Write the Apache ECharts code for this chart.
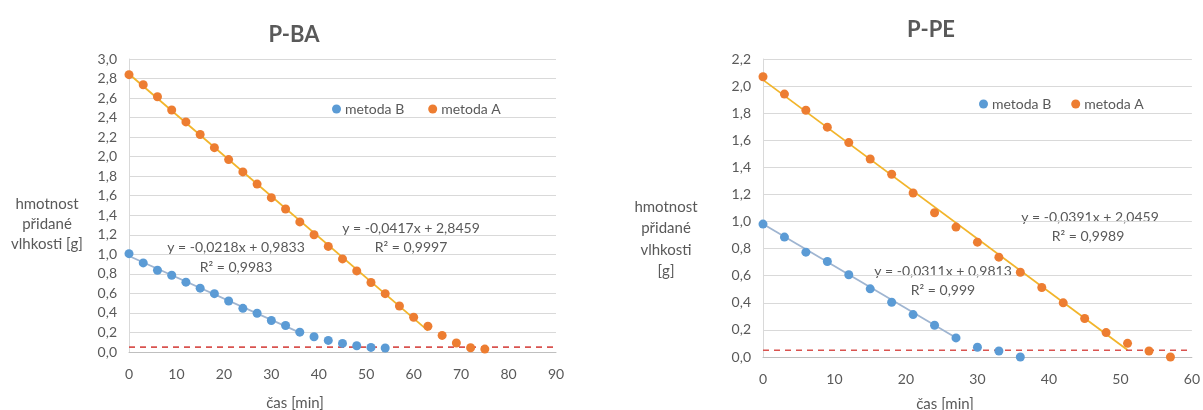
<!DOCTYPE html>
<html>
<head>
<meta charset="utf-8">
<script src="https://cdn.jsdelivr.net/npm/echarts@6/dist/echarts.min.js"></script>
<style>
html,body{margin:0;padding:0;background:#fff;}
#c{width:1203px;height:410px;}
</style>
</head>
<body>
<div id="c"></div>
<script>
// ---- data: P-BA (left chart) ----
const baTime = [0,3,6,9,12,15,18,21,24,27,30,33,36,39,42,45,48,51,54,57,60,63,66,69,72,75];
const baA = [2.84,2.736,2.614,2.478,2.356,2.227,2.092,1.97,1.844,1.719,1.58,1.464,1.332,1.2,1.081,0.953,0.83,0.712,0.597,0.471,0.356,0.264,0.17,0.092,0.044,0.03];
const baB = [1.007,0.912,0.837,0.786,0.715,0.654,0.597,0.522,0.447,0.397,0.322,0.271,0.203,0.156,0.119,0.088,0.064,0.047,0.041];
// trendline coefficients shown on chart: [slope, intercept, xStart, xEnd]
const baTrendA = [-0.0417, 2.8459, 0, 63];
const baTrendB = [-0.0218, 0.9833, 0, 36];
const baEqA = ['y = -0,0417x + 2,8459', 'R² = 0,9997'];
const baEqB = ['y = -0,0218x + 0,9833', 'R² = 0,9983'];

// ---- data: P-PE (right chart) ----
const peTime = [0,3,6,9,12,15,18,21,24,27,30,33,36,39,42,45,48,51,54,57];
const peA = [2.069,1.941,1.822,1.697,1.583,1.462,1.349,1.211,1.065,0.959,0.848,0.737,0.626,0.513,0.4,0.284,0.18,0.101,0.044,0.0];
const peB = [0.981,0.885,0.774,0.705,0.607,0.503,0.404,0.313,0.234,0.141,0.072,0.044,0.0];
const peTrendA = [-0.0391, 2.0459, 0, 51];
const peTrendB = [-0.0311, 0.9813, 0, 27];
const peEqA = ['y = -0,0391x + 2,0459', 'R² = 0,9989'];
const peEqB = ['y = -0,0311x + 0,9813', 'R² = 0,999'];

const threshold = 0.05;
const titles = ['P-BA', 'P-PE'];
const seriesNames = ['metoda B', 'metoda A'];
const xName = 'čas [min]';
const yNameBA = 'hmotnost\npřidané\nvlhkosti [g]';
const yNamePE = 'hmotnost\npřidané\nvlhkosti\n[g]';
const xAxisBA = [0, 90, 10];
const yAxisBA = [0, 3.0, 0.2];
const xAxisPE = [0, 60, 10];
const yAxisPE = [0, 2.2, 0.2];

// ---- styling ----
const FONT = 'Lato';
const TXT = '#595959';
const BLUE = '#5B9BD5';
const ORANGE = '#ED7D31';
const TREND_A = '#F2B52B';
const TREND_B = '#9FB5D1';
const RED = '#D9534F';

function pts(xs, ys){ return ys.map((v,i)=>[xs[i], v]); }
function trend(t){ return [[t[2], t[0]*t[2]+t[1]], [t[3], t[0]*t[3]+t[1]]]; }
const dec = v => v.toFixed(1).replace('.', ',');

function xAx(gi, r){
  return {gridIndex: gi, type:'value', min:r[0], max:r[1], interval:r[2],
    axisLine:{show:true, lineStyle:{color:'#BFBFBF', width:1}},
    axisTick:{show:false}, splitLine:{show:false},
    axisLabel:{color:TXT, fontFamily:FONT, fontSize:14, margin:15}};
}
function yAx(gi, r){
  return {gridIndex: gi, type:'value', min:r[0], max:r[1], interval:r[2],
    axisLine:{show:true, lineStyle:{color:'#D9D9D9', width:1}},
    axisTick:{show:false},
    splitLine:{show:true, lineStyle:{color:'#D9D9D9', width:1}},
    axisLabel:{color:TXT, fontFamily:FONT, fontSize:14, margin:12, formatter: dec}};
}
function scatter(name, gi, data, color){
  return {name, type:'scatter', xAxisIndex:gi, yAxisIndex:gi, data,
    symbol:'circle', symbolSize:9, itemStyle:{color, opacity:1}, z:5, silent:true};
}
function tline(gi, t, color){
  return {type:'line', xAxisIndex:gi, yAxisIndex:gi, data:trend(t), symbol:'none',
    lineStyle:{color, width:1.8}, z:3, silent:true};
}
function thr(gi, r){
  return {type:'line', xAxisIndex:gi, yAxisIndex:gi, data:[[r[0], threshold],[r[1], threshold]], symbol:'none',
    lineStyle:{color:RED, width:1.6, type:[6,5]}, z:4, silent:true};
}
function txt(x, y, s, opts){
  return Object.assign({type:'text', x, y, style:{text:s, fill:TXT, font:'14px ' + FONT, textAlign:'center', textVerticalAlign:'middle'}}, opts||{});
}
function multi(x, y, s, lh){
  return {type:'text', x, y, style:{text:s, fill:TXT, font:'15px ' + FONT, textAlign:'center', textVerticalAlign:'middle', lineHeight:lh}};
}

const option = {
  backgroundColor:'#ffffff',
  animation:false,
  title:[
    {text:titles[0], left:289, top:30, textAlign:'center', textVerticalAlign:'middle',
     textStyle:{fontFamily:FONT, fontWeight:'bold', fontSize:22, color:TXT}},
    {text:titles[1], left:926, top:25, textAlign:'center', textVerticalAlign:'middle',
     textStyle:{fontFamily:FONT, fontWeight:'bold', fontSize:22, color:TXT}}
  ],
  legend:[
    {data:seriesNames, left:327, top:97, icon:'circle', itemWidth:9, itemHeight:9, itemGap:24,
     textStyle:{color:TXT, fontFamily:FONT, fontSize:14, padding:[0,0,0,-1]}, selectedMode:false},
    {data:seriesNames, left:974, top:92, icon:'circle', itemWidth:9, itemHeight:9, itemGap:20,
     textStyle:{color:TXT, fontFamily:FONT, fontSize:14, padding:[0,0,0,-1]}, selectedMode:false}
  ],
  grid:[
    {left:129, top:59, width:427, height:293},
    {left:763, top:59, width:431, height:298}
  ],
  xAxis:[xAx(0, xAxisBA), xAx(1, xAxisPE)],
  yAxis:[yAx(0, yAxisBA), yAx(1, yAxisPE)],
  series:[
    thr(0, xAxisBA),
    tline(0, baTrendA, TREND_A),
    tline(0, baTrendB, TREND_B),
    scatter(seriesNames[0], 0, pts(baTime, baB), BLUE),
    scatter(seriesNames[1], 0, pts(baTime, baA), ORANGE),
    thr(1, xAxisPE),
    tline(1, peTrendA, TREND_A),
    tline(1, peTrendB, TREND_B),
    scatter(seriesNames[0], 1, pts(peTime, peB), BLUE),
    scatter(seriesNames[1], 1, pts(peTime, peA), ORANGE)
  ],
  graphic:[
    txt(411, 228, baEqA[0]), txt(411, 247, baEqA[1]),
    txt(236, 247, baEqB[0]), txt(236, 267, baEqB[1]),
    txt(1090, 217, peEqA[0]), txt(1088, 236, peEqA[1]),
    txt(943, 271, peEqB[0]), txt(943, 290, peEqB[1]),
    multi(47, 224, yNameBA, 20),
    multi(666, 239, yNamePE, 21.5),
    txt(295, 403, xName, {style:{text:xName, fill:TXT, font:'15px ' + FONT, textAlign:'center', textVerticalAlign:'middle'}}),
    txt(945, 404, xName, {style:{text:xName, fill:TXT, font:'15px ' + FONT, textAlign:'center', textVerticalAlign:'middle'}})
  ]
};
const chart = echarts.init(document.getElementById('c'), null, {renderer:'canvas'});
chart.setOption(option);
</script>
</body>
</html>
